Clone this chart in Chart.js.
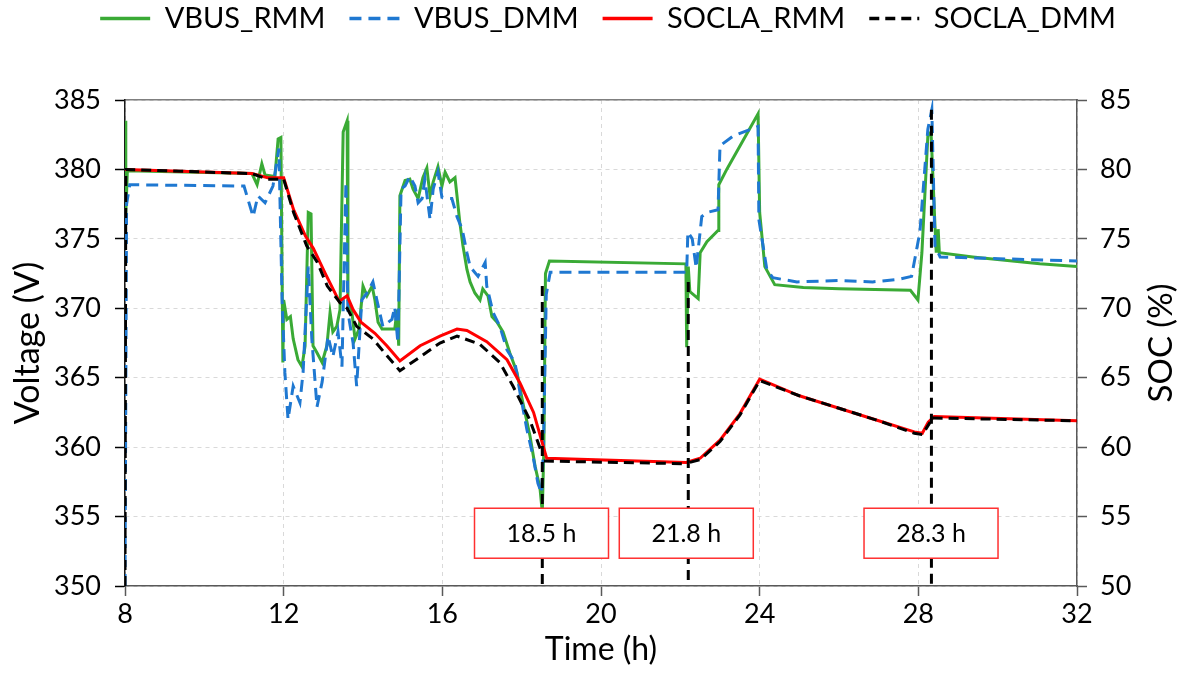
<!DOCTYPE html>
<html>
<head>
<meta charset="utf-8">
<script src="https://cdn.jsdelivr.net/npm/chart.js@4.4.1/dist/chart.umd.min.js"></script>
<style>
  html, body { margin: 0; padding: 0; background: #fff; }
  #wrap { width: 1188px; height: 686px; position: relative; }
</style>
</head>
<body>
<div id="wrap"><canvas id="socChart"></canvas></div>
<script>
// Bus voltage (V) and SOC (%) vs time (h)
const vbusRmm = [
  [8.00, 383.5], [8.02, 376.8], [8.06, 379.9], [11.20, 379.7], [11.33, 378.9], [11.45, 380.4],
  [11.53, 379.6], [11.78, 379.5], [11.86, 382.2], [11.93, 382.3], [11.98, 366.1], [12.00, 370.6],
  [12.08, 369.2], [12.17, 369.4], [12.24, 367.8], [12.36, 366.3], [12.46, 365.8], [12.54, 367.3],
  [12.62, 376.9], [12.69, 376.8], [12.74, 367.3], [12.84, 366.8], [12.97, 366.1], [13.09, 367.3],
  [13.17, 369.7], [13.24, 368.3], [13.34, 368.7], [13.42, 369.9], [13.50, 382.7], [13.60, 383.5],
  [13.62, 370.6], [13.72, 369.7], [13.80, 367.8], [13.90, 368.5], [14.00, 371.6], [14.10, 370.9],
  [14.23, 371.6], [14.30, 370.6], [14.38, 369.0], [14.48, 368.5], [14.63, 368.5], [14.80, 368.5],
  [14.86, 369.9], [14.90, 367.3], [14.93, 378.1], [15.06, 379.2], [15.18, 379.3], [15.26, 378.6],
  [15.39, 377.9], [15.51, 379.4], [15.61, 380.1], [15.69, 378.1], [15.77, 379.1], [15.89, 380.2],
  [15.99, 378.8], [16.07, 379.8], [16.19, 379.1], [16.32, 379.4], [16.37, 378.1], [16.44, 376.2],
  [16.52, 374.5], [16.62, 372.8], [16.70, 371.9], [16.82, 371.1], [16.95, 370.6], [17.02, 371.4],
  [17.15, 370.9], [17.25, 369.4], [17.38, 369.0], [17.53, 368.3], [17.70, 366.8], [17.88, 365.4],
  [18.03, 363.2], [18.21, 360.8], [18.34, 358.6], [18.46, 357.1], [18.52, 355.3], [18.56, 360.0],
  [18.60, 372.5], [18.70, 373.4], [22.14, 373.2], [22.16, 367.2], [22.20, 373.0], [22.24, 371.2],
  [22.45, 370.7], [22.50, 374.0], [22.67, 374.8], [22.95, 375.6], [22.97, 378.9], [23.17, 380.0],
  [23.96, 384.0], [24.00, 376.9], [24.13, 373.0], [24.38, 371.7], [25.10, 371.5], [26.00, 371.4],
  [27.80, 371.3], [27.99, 370.6], [28.09, 374.0], [28.24, 382.4], [28.32, 382.7], [28.42, 375.9],
  [28.45, 374.1], [28.50, 374.1], [28.50, 375.7], [28.53, 374.0], [29.37, 373.7], [31.06, 373.2],
  [32.00, 373.0]
]

const vbusDmm = [
  [8.00, 350.0], [8.04, 377.5], [8.12, 378.9], [11.00, 378.8], [11.23, 376.6], [11.35, 378.1],
  [11.53, 377.6], [11.73, 378.8], [11.88, 381.5], [11.96, 370.6], [12.03, 365.4], [12.11, 362.0],
  [12.24, 364.4], [12.41, 363.2], [12.49, 365.4], [12.62, 373.0], [12.71, 367.8], [12.84, 362.9],
  [12.97, 364.7], [13.12, 368.0], [13.24, 366.5], [13.37, 368.3], [13.47, 365.8], [13.57, 379.1],
  [13.62, 369.7], [13.75, 367.5], [13.84, 364.4], [13.97, 370.6], [14.10, 371.1], [14.25, 371.9],
  [14.35, 370.6], [14.50, 368.7], [14.73, 369.2], [14.80, 370.1], [14.88, 367.5], [14.96, 378.6],
  [15.06, 378.8], [15.18, 379.5], [15.31, 378.8], [15.39, 377.6], [15.49, 377.9], [15.56, 379.3],
  [15.69, 376.4], [15.77, 378.6], [15.89, 379.8], [15.99, 378.0], [16.12, 377.9], [16.24, 377.9],
  [16.37, 376.6], [16.50, 375.7], [16.62, 374.0], [16.70, 373.0], [16.90, 372.3], [17.08, 373.3],
  [17.12, 371.6], [17.28, 369.7], [17.45, 368.7], [17.63, 367.0], [17.83, 366.1], [17.96, 363.9],
  [18.13, 361.3], [18.29, 359.3], [18.41, 357.4], [18.50, 356.7], [18.55, 360.0], [18.62, 371.0],
  [18.72, 372.6], [22.16, 372.6], [22.19, 375.5], [22.30, 375.0], [22.40, 372.9], [22.54, 376.6],
  [22.67, 376.9], [22.95, 377.1], [23.00, 381.7], [23.33, 382.4], [23.96, 383.1], [23.98, 376.4],
  [24.18, 372.8], [24.33, 372.2], [24.94, 371.9], [26.00, 372.0], [26.85, 371.9], [27.53, 372.1],
  [27.83, 372.3], [28.04, 375.5], [28.24, 382.9], [28.34, 384.3], [28.42, 374.5], [28.55, 373.7],
  [32.00, 373.4]
]

const soclaRmm = [
  [8.00, 80.0], [11.20, 79.7], [11.60, 79.4], [12.00, 79.4], [12.25, 77.1], [12.55, 75.2],
  [12.75, 74.3], [13.05, 72.5], [13.40, 70.5], [13.60, 70.9], [13.75, 69.9], [13.95, 69.0],
  [14.30, 68.2], [14.60, 67.3], [14.93, 66.2], [15.44, 67.3], [15.94, 68.0], [16.37, 68.5],
  [16.62, 68.4], [17.12, 67.6], [17.63, 66.3], [17.96, 64.6], [18.30, 62.5], [18.55, 60.0],
  [18.63, 59.2], [22.15, 58.9], [22.50, 59.2], [23.00, 60.5], [23.50, 62.4], [24.00, 64.9],
  [25.00, 63.7], [26.00, 62.8], [27.00, 61.9], [27.90, 61.1], [28.10, 61.0], [28.25, 61.8],
  [28.40, 62.2], [32.00, 61.9]
]

// the DMM trace jumps to a spike top, drops to the axis floor, then resumes
const soclaDmm = [
  [8.00, 50.0], [8.02, 80.0], [11.20, 79.7], [11.60, 79.3], [12.00, 79.3], [12.25, 76.9],
  [12.58, 74.5], [12.85, 73.3], [13.10, 71.6], [13.42, 70.4], [13.60, 70.0], [13.84, 68.7],
  [14.25, 67.8], [14.60, 66.6], [14.93, 65.5], [15.44, 66.5], [15.94, 67.5], [16.37, 68.0],
  [16.95, 67.4], [17.45, 66.1], [17.78, 64.4], [18.20, 62.0], [18.48, 59.8], [18.52, 71.6],
  [18.52, 50.0], [18.56, 59.0], [22.20, 58.8], [22.20, 71.9], [22.20, 50.0], [22.24, 58.9],
  [22.50, 59.1], [23.00, 60.4], [23.50, 62.3], [24.00, 64.8], [25.00, 63.7], [26.00, 62.8],
  [27.00, 61.9], [27.90, 61.0], [28.10, 60.9], [28.30, 61.8], [28.33, 84.3], [28.33, 50.0],
  [28.36, 62.1], [32.00, 61.9]
]

const seriesNames = ['VBUS_RMM', 'VBUS_DMM', 'SOCLA_RMM', 'SOCLA_DMM']
const markerTimes = [18.5, 22.15, 28.32]
const markerLabels = ['18.5 h', '21.8 h', '28.3 h']
const timeTicks = [8, 12, 16, 20, 24, 28, 32]
const voltTicks = [350, 355, 360, 365, 370, 375, 380, 385]
const socTicks = [50, 55, 60, 65, 70, 75, 80, 85]

const FONT = 'Lato'
const SOC_FLOOR = 50
Chart.defaults.font.family = FONT
Chart.defaults.color = '#000'

// legend: fixed height band at top, nudged up so the row sits near the top edge
const legendBand = {
  id: 'legendBand',
  beforeInit(chart) {
    const fit = chart.legend.fit
    chart.legend.fit = function () { fit.call(this); this.height = 100 }
    const draw = chart.legend.draw
    chart.legend.draw = function () {
      this.ctx.save()
      this.ctx.translate(14, -20)
      draw.call(this)
      this.ctx.restore()
    }
  }
}

// red framed time labels + right axis title (reads bottom to top)
const markerBoxes = {
  id: 'markerBoxes',
  afterDatasetsDraw(chart) {
    const { ctx, scales: { x, y } } = chart
    const top = y.getPixelForValue(355.6)
    const bottom = y.getPixelForValue(352.0)
    const w = 134
    ctx.save()
    markerTimes.forEach((t, i) => {
      const cx = x.getPixelForValue(t)
      ctx.fillStyle = '#fff'
      ctx.fillRect(cx - w / 2, top, w, bottom - top)
      ctx.strokeStyle = '#ff3030'
      ctx.lineWidth = 1.5
      ctx.strokeRect(cx - w / 2, top, w, bottom - top)
      ctx.fillStyle = '#000'
      ctx.font = '25px ' + FONT
      ctx.textAlign = 'center'
      ctx.textBaseline = 'middle'
      ctx.fillText(markerLabels[i], cx, (top + bottom) / 2 + 1)
    })
    ctx.restore()
  },
  afterDraw(chart) {
    const { ctx, chartArea } = chart
    ctx.save()
    ctx.translate(1161, (chartArea.top + chartArea.bottom) / 2)
    ctx.rotate(-Math.PI / 2)
    ctx.font = '33px ' + FONT
    ctx.fillStyle = '#000'
    ctx.textAlign = 'center'
    ctx.textBaseline = 'middle'
    ctx.fillText('SOC (%)', 0, 0)
    ctx.restore()
  }
}

// on the DMM spikes only the drop to the floor is stroked, so dashes do not stack
function hideSpikeLegs(ctx) {
  const data = ctx.chart.data.datasets[ctx.datasetIndex].data
  const next = data[ctx.p1DataIndex + 1]
  if (next && next[1] === SOC_FLOOR) return 'rgba(0,0,0,0)'
  if (ctx.p0DataIndex > 0 && data[ctx.p0DataIndex][1] === SOC_FLOOR) return 'rgba(0,0,0,0)'
  return undefined
}

function buildChart() {
  const ctx = document.getElementById('socChart').getContext('2d')
  const tickFont = { size: 27 }
  const gridCol = '#d9d9d9'

  // eslint-disable-next-line no-undef
  new Chart(ctx, {
    type: 'line',
    data: {
      datasets: [
        { label: seriesNames[0], data: vbusRmm, yAxisID: 'y', borderColor: '#3aaa35', borderWidth: 3, order: 4 },
        { label: seriesNames[1], data: vbusDmm, yAxisID: 'y', borderColor: '#1f78d1', borderWidth: 3, borderDash: [12, 7], order: 3 },
        { label: seriesNames[2], data: soclaRmm, yAxisID: 'y1', borderColor: '#ff0000', borderWidth: 3, order: 2 },
        {
          label: seriesNames[3], data: soclaDmm, yAxisID: 'y1', borderColor: '#000000', borderWidth: 3,
          borderDash: [10, 6], order: 1, segment: { borderColor: hideSpikeLegs }
        }
      ]
    },
    options: {
      responsive: true,
      maintainAspectRatio: false,
      animation: false,
      elements: { point: { radius: 0, hoverRadius: 0 }, line: { tension: 0, fill: false } },
      layout: { padding: 0 },
      plugins: {
        legend: {
          display: true,
          position: 'top',
          labels: {
            usePointStyle: true,
            pointStyle: 'line',
            pointStyleWidth: 50,
            padding: 24,
            font: { size: 29 },
            color: '#000',
            generateLabels(chart) {
              const items = Chart.defaults.plugins.legend.labels.generateLabels(chart)
              items.forEach(it => {
                const ds = chart.data.datasets[it.datasetIndex]
                it.lineDash = ds.borderDash || []
                it.lineWidth = 3.5
                it.strokeStyle = ds.borderColor
              })
              return items.sort((a, b) => a.datasetIndex - b.datasetIndex)
            }
          }
        },
        tooltip: { enabled: false }
      },
      scales: {
        x: {
          type: 'linear',
          position: 'bottom',
          min: 8,
          max: 32,
          afterBuildTicks: (axis) => { axis.ticks = timeTicks.map(v => ({ value: v })) },
          ticks: { font: tickFont, padding: 2 },
          grid: { color: gridCol, lineWidth: 1, tickColor: '#595959', tickLength: 10, tickWidth: 1.5 },
          border: { color: '#595959', width: 1.5, dash: [4, 4] },
          title: { display: true, text: 'Time (h)', font: { size: 32 }, padding: { top: 0, bottom: 17 } },
          afterFit: (axis) => { axis.height = 100 }
        },
        xTop: {
          type: 'linear',
          position: 'top',
          min: 8,
          max: 32,
          display: true,
          ticks: { display: false },
          grid: { display: false, drawTicks: false },
          border: { color: '#7f7f7f', width: 1.5 },
          afterFit: (axis) => { axis.height = 0 }
        },
        y: {
          position: 'left',
          min: 350,
          max: 385,
          afterBuildTicks: (axis) => { axis.ticks = voltTicks.map(v => ({ value: v })) },
          ticks: { font: tickFont, padding: 14 },
          grid: { color: gridCol, lineWidth: 1, tickColor: '#000', tickLength: 10, tickWidth: 1.5 },
          border: { color: '#1a1a1a', width: 1.5, dash: [4, 4] },
          title: { display: true, text: 'Voltage (V)', font: { size: 34 }, padding: { top: 8, bottom: 0 } },
          afterFit: (axis) => { axis.width = 125 }
        },
        y1: {
          position: 'right',
          min: 50,
          max: 85,
          afterBuildTicks: (axis) => { axis.ticks = socTicks.map(v => ({ value: v })) },
          ticks: { font: tickFont, padding: 13 },
          grid: { drawOnChartArea: false, tickColor: '#595959', tickLength: 10, tickWidth: 1.5 },
          border: { color: '#595959', width: 1.5 },
          title: { display: false },
          afterFit: (axis) => { axis.width = 111 }
        }
      }
    },
    plugins: [legendBand, markerBoxes]
  })
}

document.fonts.load('29px ' + FONT).then(buildChart, buildChart)
</script>
</body>
</html>
